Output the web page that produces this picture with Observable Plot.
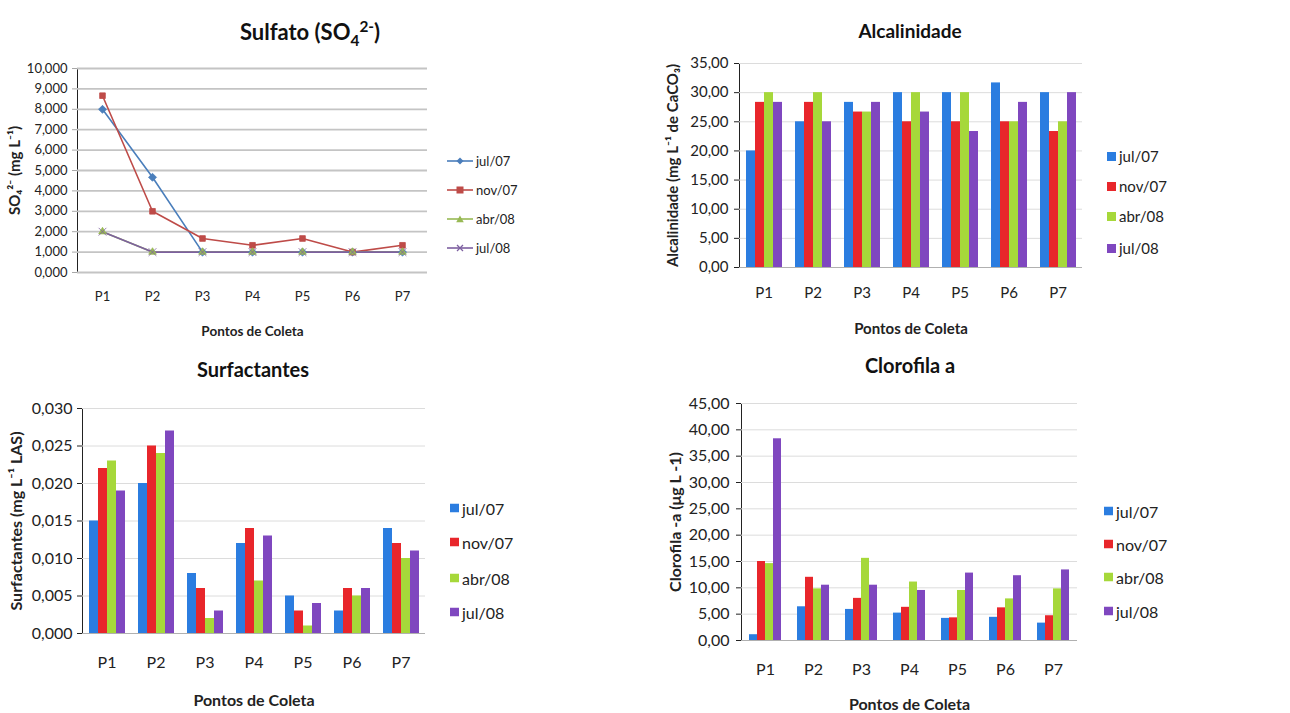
<!DOCTYPE html>
<html>
<head>
<meta charset="utf-8">
<script src="https://cdn.jsdelivr.net/npm/d3@7"></script>
<script src="https://cdn.jsdelivr.net/npm/@observablehq/plot@0.6"></script>
<style>
  body { margin: 0; background: #fff; font-family: Lato, "Open Sans", sans-serif; }
  #root { position: relative; width: 1290px; height: 713px; overflow: hidden; background: #fff; }
  .panel { position: absolute; }
  .title { position: absolute; font-weight: 700; color: #111; white-space: nowrap; transform: translate(-50%, -50%); }
  .leg { position: absolute; display: flex; align-items: center; white-space: nowrap; color: #222; transform: translateY(-50%); }
  .leg .sw { display: inline-block; margin-right: 3px; }
  svg [aria-label$="axis label"] text, svg [aria-label$="axis label"] { font-weight: 700; }
  svg [aria-label="y-axis tick"], svg [aria-label="y-axis line"] { stroke: #a8a8a8; }
  svg.sulfato [aria-label="y-axis label"] { font-size: 15px; }
  svg.sulfato [aria-label="x-axis label"] { font-size: 13.5px; }
</style>
</head>
<body>
<div id="root"></div>
<script>
// ---------- data ----------
const points = ["P1", "P2", "P3", "P4", "P5", "P6", "P7"];
const seriesNames = ["jul/07", "nov/07", "abr/08", "jul/08"];

// Sulfato (SO4 2-) — one array per series (jul/07, nov/07, abr/08, jul/08)
const sulfatoJul07 = [8.0, 4.667, 1.0, 1.0, 1.0, 1.0, 1.0];
const sulfatoNov07 = [8.667, 3.0, 1.667, 1.333, 1.667, 1.0, 1.333];
const sulfatoAbr08 = [2.0, 1.0, 1.0, 1.0, 1.0, 1.0, 1.0];
const sulfatoJul08 = [2.0, 1.0, 1.0, 1.0, 1.0, 1.0, 1.0];
const sulfatoTicks = [0, 1, 2, 3, 4, 5, 6, 7, 8, 9, 10];

// Alcalinidade
const alcJul07 = [20.0, 25.0, 28.33, 30.0, 30.0, 31.67, 30.0];
const alcNov07 = [28.33, 28.33, 26.67, 25.0, 25.0, 25.0, 23.33];
const alcAbr08 = [30.0, 30.0, 26.67, 30.0, 30.0, 25.0, 25.0];
const alcJul08 = [28.33, 25.0, 28.33, 26.67, 23.33, 28.33, 30.0];
const alcTicks = [0, 5, 10, 15, 20, 25, 30, 35];

// Surfactantes
const surfJul07 = [0.015, 0.020, 0.008, 0.012, 0.005, 0.003, 0.014];
const surfNov07 = [0.022, 0.025, 0.006, 0.014, 0.003, 0.006, 0.012];
const surfAbr08 = [0.023, 0.024, 0.002, 0.007, 0.001, 0.005, 0.010];
const surfJul08 = [0.019, 0.027, 0.003, 0.013, 0.004, 0.006, 0.011];
const surfTicks = [0, 0.005, 0.010, 0.015, 0.020, 0.025, 0.030];

// Clorofila a
const cloJul07 = [1.1, 6.4, 5.9, 5.2, 4.2, 4.4, 3.3];
const cloNov07 = [15.0, 12.0, 8.0, 6.3, 4.3, 6.2, 4.7];
const cloAbr08 = [14.6, 9.8, 15.6, 11.1, 9.5, 7.9, 9.8];
const cloJul08 = [38.3, 10.5, 10.5, 9.5, 12.8, 12.3, 13.4];
const cloTicks = [0, 5, 10, 15, 20, 25, 30, 35, 40, 45];

// ---------- styles ----------
const lineColors = ["#4a7ebb", "#be4b48", "#98b954", "#7d60a0"];
const barColors = ["#2b7de0", "#e8262b", "#a6d83a", "#7f47bf"];
const symbols = ["diamond2", "square2", "triangle2", "times"];
const FONT = "Lato, 'Open Sans', sans-serif";

function tidy(seriesArrays) {
  return seriesNames.flatMap((s, j) => points.map((p, i) => ({ point: p, series: s, value: seriesArrays[j][i] })));
}
const comma = (n) => (d) => d.toFixed(n).replace(".", ",");

const root = document.getElementById("root");
function place(el, left, top) {
  el.classList.add("panel");
  el.style.left = left + "px";
  el.style.top = top + "px";
  root.appendChild(el);
}
function title(html, cx, cy, size) {
  const d = document.createElement("div");
  d.className = "title";
  d.innerHTML = html;
  d.style.left = cx + "px";
  d.style.top = cy + "px";
  d.style.fontSize = size + "px";
  root.appendChild(d);
}
function legend(items, x, ys, size, kind) {
  items.forEach((name, i) => {
    const d = document.createElement("div");
    d.className = "leg";
    d.style.left = x + "px";
    d.style.top = ys[i] + "px";
    d.style.fontSize = size + "px";
    let sw;
    if (kind === "line") {
      const c = lineColors[i];
      let m = "";
      if (i === 0) m = `<path d="M13,1.5 L16.5,5 L13,8.5 L9.5,5Z" fill="${c}"/>`;
      if (i === 1) m = `<rect x="9.5" y="1.5" width="7" height="7" fill="${c}"/>`;
      if (i === 2) m = `<path d="M13,1.5 L16.8,8.2 L9.2,8.2Z" fill="${c}"/>`;
      if (i === 3) m = `<path d="M10,2 L16,8 M16,2 L10,8" stroke="${c}" stroke-width="1.3"/>`;
      sw = `<svg class="sw" width="26" height="10"><line x1="0" y1="5" x2="26" y2="5" stroke="${c}" stroke-width="1.6"/>${m}</svg>`;
    } else {
      sw = `<svg class="sw" width="9" height="9"><rect width="9" height="9" fill="${barColors[i]}"/></svg>`;
    }
    d.innerHTML = sw + `<span>${name}</span>`;
    root.appendChild(d);
  });
}

// ---------- Panel 1: Sulfato (line chart) ----------
const sulfatoData = tidy([sulfatoJul07, sulfatoNov07, sulfatoAbr08, sulfatoJul08]);
const p1 = Plot.plot({
  width: 640, height: 340,
  className: "sulfato",
  marginLeft: 77, marginRight: 213, marginTop: 68, marginBottom: 68,
  style: { fontFamily: FONT, fontSize: "13px", color: "#222", background: "transparent", overflow: "visible" },
  x: { type: "point", domain: points, padding: 0.5, label: "Pontos de Coleta", labelAnchor: "center", labelArrow: "none", labelOffset: 63, tickSize: 0, tickPadding: 19 },
  y: { domain: [0, 10], ticks: sulfatoTicks, tickFormat: comma(3), label: "SO₄²⁻ (mg L⁻¹)", labelAnchor: "center", labelArrow: "none", labelOffset: 68, tickSize: 5, tickPadding: 5, line: true },
  color: { domain: seriesNames, range: lineColors },
  symbol: { domain: seriesNames, range: symbols },
  marks: [
    Plot.ruleY(sulfatoTicks, { stroke: "#c4c4c4", strokeWidth: 1.8 }),
    Plot.line(sulfatoData, { x: "point", y: "value", z: "series", stroke: "series", strokeWidth: 1.6 }),
    Plot.dot(sulfatoData, { x: "point", y: "value", symbol: "series", fill: "series", stroke: "series", strokeWidth: 0.8, r: 3.6 })
  ]
});
place(p1, 0, 0);
title('Sulfato (SO<sub style="font-size:0.7em">4</sub><sup style="font-size:0.7em">2-</sup>)', 310, 33, 22);
legend(seriesNames, 447, [161, 190, 219, 248], 13, "line");

// ---------- bar chart helper ----------
function barChart(o) {
  const data = tidy(o.series);
  return Plot.plot({
    width: o.width, height: o.height,
    marginLeft: o.ml, marginRight: o.mr, marginTop: o.mt, marginBottom: o.mb,
    style: { fontFamily: FONT, fontSize: o.fontSize + "px", color: "#222", background: "transparent", overflow: "visible" },
    fx: { domain: points, padding: 0, axis: "bottom", label: "Pontos de Coleta", labelAnchor: "center", labelArrow: "none", labelOffset: o.xLabelOffset, tickSize: 0, tickPadding: o.xTickPadding },
    x: { domain: seriesNames, paddingInner: 0, paddingOuter: 0.667, axis: null },
    y: { domain: [o.ticks[0], o.ticks[o.ticks.length - 1]], ticks: o.ticks, tickFormat: o.fmt, label: o.yLabel, labelAnchor: "center", labelArrow: "none", labelOffset: o.yLabelOffset, tickSize: 5, tickPadding: o.yTickPadding, line: true },
    color: { domain: seriesNames, range: barColors },
    marks: [
      Plot.ruleY(o.ticks.slice(1), { stroke: "#dcdcdc", strokeWidth: 1 }),
      Plot.barY(data, { fx: "point", x: "series", y: "value", fill: "series", inset: 0 }),
      Plot.ruleY([0], { stroke: "#b0b0b0", strokeWidth: 1 })
    ]
  });
}

// ---------- Panel 2: Alcalinidade ----------
const p2 = barChart({
  series: [alcJul07, alcNov07, alcAbr08, alcJul08], ticks: alcTicks, fmt: comma(2),
  width: 650, height: 340, ml: 97, mr: 207, mt: 63, mb: 73, fontSize: 15,
  yLabel: "Alcalinidade (mg L⁻¹ de CaCO₃)", yLabelOffset: 72, yTickPadding: 6,
  xLabelOffset: 66, xTickPadding: 20
});
place(p2, 640, 0);
title("Alcalinidade", 910, 30, 19);
legend(seriesNames, 1107, [156, 186, 216, 248], 15, "bar");

// ---------- Panel 3: Surfactantes ----------
const p3 = barChart({
  series: [surfJul07, surfNov07, surfAbr08, surfJul08], ticks: surfTicks, fmt: comma(3),
  width: 640, height: 373, ml: 82, mr: 215, mt: 68, mb: 80, fontSize: 16,
  yLabel: "Surfactantes (mg L⁻¹ LAS)", yLabelOffset: 72, yTickPadding: 5,
  xLabelOffset: 72, xTickPadding: 23
});
place(p3, 0, 340);
title("Surfactantes", 253, 369, 20);
legend(seriesNames, 450, [508, 542, 578, 612], 16, "bar");

// ---------- Panel 4: Clorofila a ----------
const p4 = barChart({
  series: [cloJul07, cloNov07, cloAbr08, cloJul08], ticks: cloTicks, fmt: comma(2),
  width: 650, height: 373, ml: 100, mr: 212, mt: 63, mb: 73, fontSize: 16,
  yLabel: "Clorofila -a (μg L -1)", yLabelOffset: 72, yTickPadding: 7,
  xLabelOffset: 69, xTickPadding: 23
});
place(p4, 640, 340);
title("Clorofila a", 910, 365, 20);
legend(seriesNames, 1104, [511, 544, 577, 611], 16, "bar");
</script>
</body>
</html>
